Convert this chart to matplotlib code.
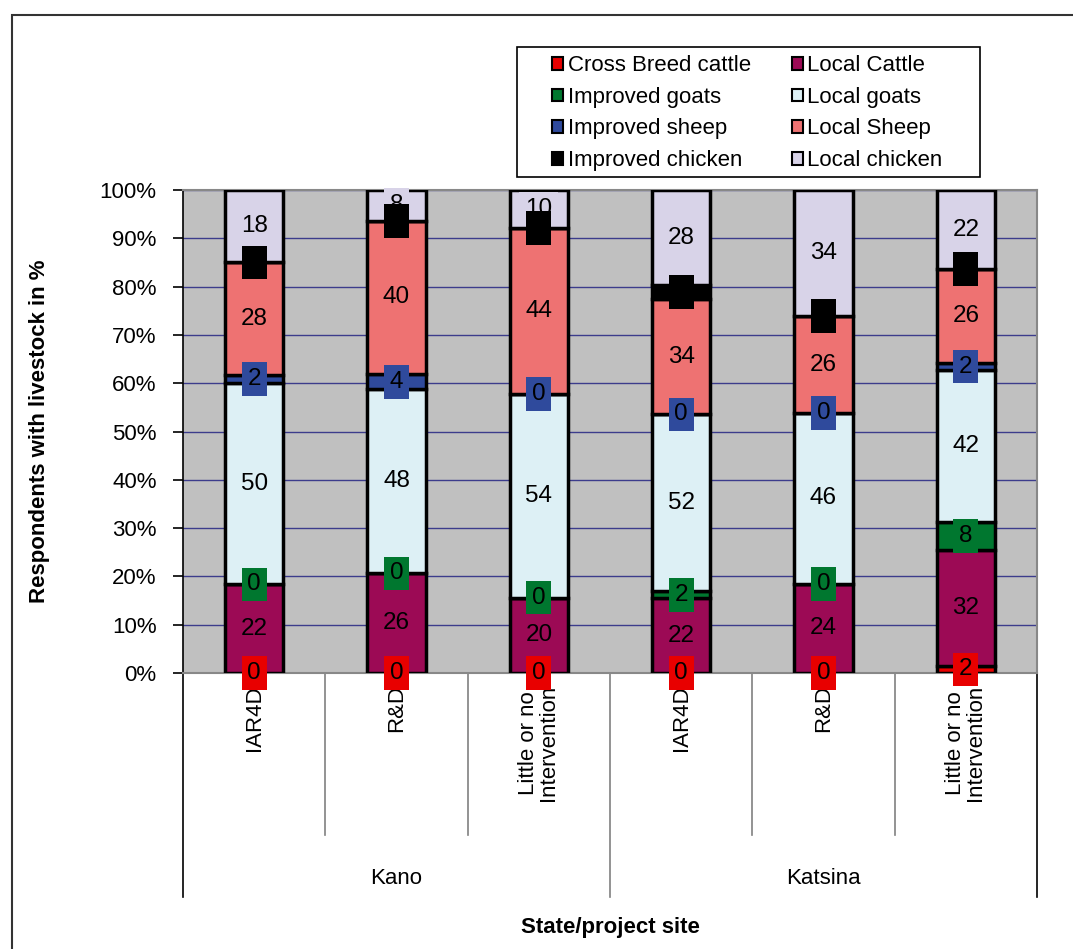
import matplotlib.pyplot as plt
import matplotlib.patches as mpatches
import numpy as np

plt.rcParams['font.family'] = ['Liberation Sans', 'DejaVu Sans']

# Counts of respondents per livestock type, one value per site
sites = ['IAR4D', 'R&D', 'Little or no\nIntervention',
         'IAR4D', 'R&D', 'Little or no\nIntervention']
states = ['Kano', 'Katsina']

cross_cattle = [0, 0, 0, 0, 0, 2]
local_cattle = [22, 26, 20, 22, 24, 32]
improved_goats = [0, 0, 0, 2, 0, 8]
local_goats = [50, 48, 54, 52, 46, 42]
improved_sheep = [2, 4, 0, 0, 0, 2]
local_sheep = [28, 40, 44, 34, 26, 26]
improved_chicken = [0, 0, 0, 4, 0, 0]
local_chicken = [18, 8, 10, 28, 34, 22]

series = [
    ('Cross Breed cattle', cross_cattle, '#E80000'),
    ('Local Cattle', local_cattle, '#9C0A55'),
    ('Improved goats', improved_goats, '#00772F'),
    ('Local goats', local_goats, '#DDF0F5'),
    ('Improved sheep', improved_sheep, '#2F4A9C'),
    ('Local Sheep', local_sheep, '#EE7272'),
    ('Improved chicken', improved_chicken, '#000000'),
    ('Local chicken', local_chicken, '#D8D3E8'),
]

fig = plt.figure(figsize=(10.73, 9.49), dpi=100)
ax = fig.add_axes([183 / 1073, 1 - 673 / 949, (1037 - 183) / 1073, (673 - 190) / 949])
ax.set_facecolor('#C0C0C0')

x = np.arange(len(sites))
totals = np.sum([np.array(v) for _, v, _ in series], axis=0)
bottom = np.zeros(len(sites))
handles = []
for i, (name, vals, col) in enumerate(series):
    vals = np.array(vals, dtype=float)
    pct = vals / totals * 100
    ax.bar(x, pct, 0.41, bottom=bottom, color=col, edgecolor='black',
           linewidth=2.5, zorder=3)
    # value labels sit on a box in the series colour
    for xi, b, p, v in zip(x, bottom, pct, vals):
        ax.text(xi, b + p / 2, f'{int(v)}', ha='center', va='center',
                fontsize=17.5, color='black', zorder=5 + (3 if col == '#000000' else 0),
                bbox=dict(boxstyle='square,pad=0.24', fc=col, ec='none'))
    bottom += pct
    handles.append(mpatches.Patch(facecolor=col, edgecolor='black', linewidth=1.5, label=name))

ax.set_xlim(-0.5, len(sites) - 0.5)
ax.set_ylim(0, 100)
ax.set_yticks(np.arange(0, 101, 10))
ax.set_yticklabels([f'{t}%' for t in range(0, 101, 10)], fontsize=16)
ax.yaxis.grid(True, color='#3C3C8C', linewidth=1.0, zorder=1)
ax.set_axisbelow(True)
ax.tick_params(axis='y', length=7, width=1.2, color='black', pad=12)
ax.set_xticks([])
for s in ['top', 'right', 'bottom']:
    ax.spines[s].set_color('#888888')
    ax.spines[s].set_linewidth(1.5)
ax.spines['left'].set_color('black')
ax.spines['left'].set_linewidth(1.2)

# multi-level category axis
tr = ax.get_xaxis_transform()
for b in [0.5, 1.5, 3.5, 4.5]:
    ax.plot([b, b], [0, -162 / 483], transform=tr, color='#808080',
            linewidth=1.2, clip_on=False)
for b in [-0.5, 2.5, 5.5]:
    ax.plot([b, b], [0, -224 / 483], transform=tr,
            color='#808080' if b == 2.5 else 'black', linewidth=1.2, clip_on=False)
for xi, lab in zip(x, sites):
    ax.text(xi, -12 / 483, lab, transform=tr, rotation=90, ha='center', va='top',
            fontsize=16, linespacing=0.95)
for j, st in enumerate(states):
    ax.text(3 * j + 1, -205 / 483, st, transform=tr, ha='center', va='center', fontsize=16)

ax.set_ylabel('Respondents with livestock in %', fontsize=16, fontweight='bold')
ax.yaxis.set_label_coords((50 - 183) / 854, 0.5)
fig.text((183 + 1037) / 2 / 1073, 1 - 927 / 949, 'State/project site', ha='center',
         va='center', fontsize=16, fontweight='bold')

leg = fig.legend(handles=handles[0::2] + handles[1::2], ncol=2, fontsize=16,
                 loc='upper left', bbox_to_anchor=(541 / 1073, 1 - 44 / 949),
                 frameon=False, borderpad=0,
                 handlelength=0.5, handleheight=0.5, handletextpad=0.2,
                 columnspacing=1.85, labelspacing=0.48)

fig.patches.append(mpatches.Rectangle((517 / 1073, 1 - 177 / 949), (980 - 517) / 1073,
                                      (177 - 47) / 949, transform=fig.transFigure,
                                      fill=False, edgecolor='black', linewidth=1.2))
fig.patches.append(mpatches.Rectangle((12 / 1073, -0.01), 1.0, 1 - 15 / 949 + 0.01,
                                      transform=fig.transFigure, fill=False,
                                      edgecolor='#333333', linewidth=1.5))

fig.savefig('out.png', dpi=100)
